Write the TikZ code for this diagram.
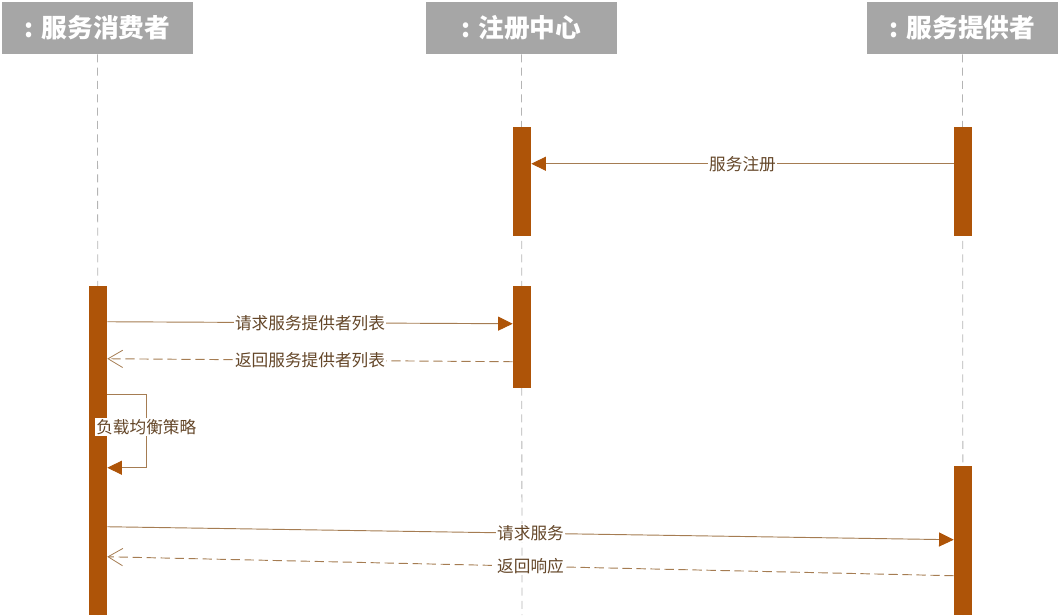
\documentclass[tikz,border=0pt]{standalone}
\usepackage{fontspec}
\setmainfont{Noto Sans CJK SC}
\usetikzlibrary{arrows.meta,calc}
\definecolor{hdrgray}{RGB}{166,166,166}
\definecolor{barbrown}{RGB}{174,84,8}
\definecolor{msgline}{RGB}{165,124,82}
\definecolor{msgtext}{RGB}{100,70,40}
\definecolor{lifegray}{RGB}{180,180,180}
\begin{document}
\begin{tikzpicture}[x=0.75pt,y=-0.75pt,
  actor/.style={fill=hdrgray, text=white, font=\bfseries\fontsize{19.3}{21}\selectfont,
    minimum width=143.25pt, minimum height=39pt, inner sep=0pt},
  lifeline/.style={draw=lifegray, dash pattern=on 6pt off 4pt, line width=0.6pt},
  actbar/.style={fill=barbrown, minimum width=13.5pt, inner sep=0pt},
  msg/.style={draw=msgline, line width=0.7pt,
    -{Triangle[length=11pt,width=10.5pt,fill=barbrown,color=barbrown]}},
  reply/.style={draw=msgline, line width=0.7pt, dash pattern=on 7pt off 3.5pt,
    -{Straight Barb[length=11pt,width=13pt,line width=0.6pt]}},
  lbl/.style={fill=white, text=msgtext, font=\fontsize{12.5}{14}\selectfont, inner sep=1pt}]
 \useasboundingbox (0,0) rectangle (1061,615);
 % actors
 \node[actor] (cons) at (97.5,28) {: 服务消费者};
 \node[actor] (reg)  at (521.5,28) {: 注册中心};
 \node[actor] (prov) at (962.5,28) {: 服务提供者};
 \coordinate (consend) at (98,615);
 \coordinate (regend)  at (522,615);
 \coordinate (provend) at (963,615);
 \draw[lifeline] (cons.south) -- (consend);
 \draw[lifeline] (reg.south) -- (regend);
 \draw[lifeline] (prov.south) -- (provend);
 % activation bars
 \node[actbar, minimum height=81.75pt]  (reg1)  at (522,181.5) {};
 \node[actbar, minimum height=81.75pt]  (prov1) at (963,181.5) {};
 \node[actbar, minimum height=76.5pt]   (reg2)  at (522,337) {};
 \node[actbar, minimum height=246.75pt] (cons1) at (98,450.5) {};
 \node[actbar, minimum height=111.75pt] (prov2) at (963,540.5) {};
 % messages
 \draw[msg] ($(prov1.north west)+(0,37)$) -- node[lbl]{服务注册} ($(reg1.north east)+(0,37)$);
 \draw[msg] ($(cons1.north east)+(0,36)$) -- node[lbl]{请求服务提供者列表} ($(reg2.north west)+(0,38)$);
 \draw[reply] ($(reg2.north west)+(0,76)$) -- node[lbl]{返回服务提供者列表} ($(cons1.north east)+(0,73)$);
 \draw[msg] ($(cons1.north east)+(0,109)$) -- ++(39,0)
   -- node[lbl, pos=0.44]{负载均衡策略} ++(0,73) -- ($(cons1.north east)+(0,182)$);
 \draw[msg] ($(cons1.north east)+(0,241)$) -- node[lbl]{请求服务} ($(prov2.north west)+(0,74)$);
 \draw[reply] ($(prov2.north west)+(0,110)$) -- node[lbl]{返回响应} ($(cons1.north east)+(0,271)$);
\end{tikzpicture}
\end{document}
